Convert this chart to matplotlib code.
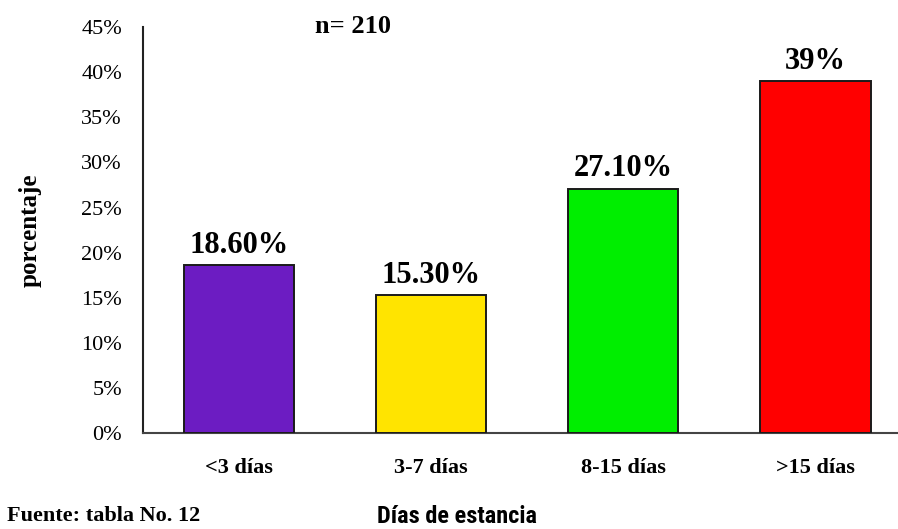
import matplotlib
matplotlib.use('agg')
import matplotlib.pyplot as plt
import numpy as np

categorias = ['<3 días', '3-7 días', '8-15 días', '>15 días']
porcentajes = [18.6, 15.3, 27.1, 39.0]
etiquetas = ['18.60%', '15.30%', '27.10%', '39%']
colores = ['#6C1CC2', '#FFE400', '#00EE00', '#FF0000']
yticks = np.arange(0, 50, 5)

plt.rcParams['font.family'] = ['Liberation Serif', 'DejaVu Serif']

fig = plt.figure(figsize=(8.98, 5.29), dpi=100)
ax = fig.add_axes([0.159, 0.181, 0.841, 0.768])

x = np.arange(len(categorias))
bars = ax.bar(x, porcentajes, width=0.575, color=colores,
              edgecolor='#1a1a1a', linewidth=1.4, zorder=3)

for b, lab in zip(bars, etiquetas):
    ax.text(b.get_x() + b.get_width() / 2, b.get_height() + 0.6, lab,
            ha='center', va='bottom', fontsize=22, fontweight='bold')

ax.set_xlim(-0.5, 3.43)
ax.set_ylim(0, 45)
ax.set_yticks(yticks)
ax.set_yticklabels([f'{v}%' for v in yticks], fontsize=16)
ax.set_xticks(x)
ax.set_xticklabels(categorias, fontsize=16, fontweight='bold')
ax.tick_params(axis='both', length=0)
ax.tick_params(axis='y', pad=15)
ax.tick_params(axis='x', pad=18)

for s in ['top', 'right']:
    ax.spines[s].set_visible(False)
ax.spines['left'].set_linewidth(1.5)
ax.spines['bottom'].set_linewidth(1.5)
ax.spines['left'].set_color('#222222')
ax.spines['bottom'].set_color('#444444')

fig.text(0.033, 0.565, 'porcentaje', fontsize=18, fontweight='bold',
         rotation=90, ha='center', va='center')
fig.text(0.393, 0.949, 'n= 210', fontsize=19, fontweight='bold',
         ha='center', va='center')
fig.text(0.008, 0.025, 'Fuente: tabla No. 12', fontsize=16, fontweight='bold',
         ha='left', va='center')
fig.text(0.509, 0.024, 'Días de estancia', fontsize=17.5, fontweight='semibold',
         family=['Liberation Sans Narrow', 'Roboto Condensed', 'Roboto'],
         ha='center', va='center')

fig.savefig('out.png', dpi=100)
plt.close(fig)
